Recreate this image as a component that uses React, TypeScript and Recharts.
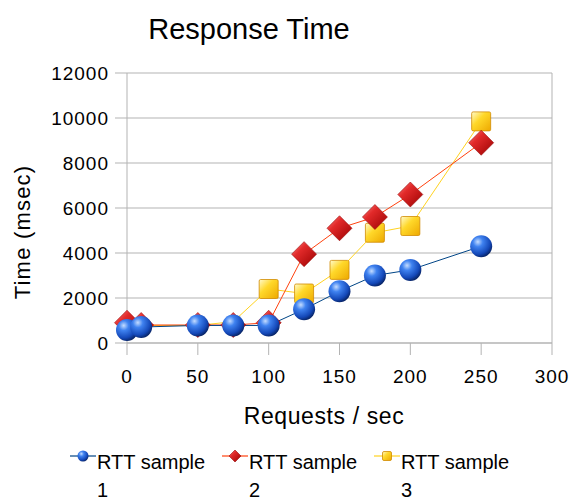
import React from 'react';
import { LineChart, Line, XAxis, YAxis, CartesianGrid, Legend, ReferenceLine } from 'recharts';

const requests = [0, 10, 50, 75, 100, 125, 150, 175, 200, 250];
const rtt1 = [580, 710, 780, 780, 780, 1500, 2300, 3000, 3250, 4300];
const rtt2 = [900, 800, 800, 800, 900, 3950, 5100, 5600, 6600, 8900];
const rtt3 = [780, 780, 780, 950, 2400, 2200, 3250, 4900, 5200, 9850];
// the first yellow symbols sit under the other series in the reference
const rtt3HiddenSymbols = 4;
const xTicks = [0, 50, 100, 150, 200, 250, 300];
const yTicks = [0, 2000, 4000, 6000, 8000, 10000, 12000];

const data = requests.map((r, i) => ({ r, s1: rtt1[i], s2: rtt2[i], s3: rtt3[i] }));

const FONT = '"Liberation Sans", Arial, sans-serif';
const GRID = '#b3b3b3';

const Sphere = ({ cx, cy, r }: { cx: number; cy: number; r: number }) => (
    <circle cx={cx} cy={cy} r={r} fill="url(#sphereGrad)" />
);
const Diamond = ({ cx, cy, r }: { cx: number; cy: number; r: number }) => (
    <polygon points={`${cx},${cy - r} ${cx + r},${cy} ${cx},${cy + r} ${cx - r},${cy}`} fill="url(#diamondGrad)" stroke="#9a0a0a" strokeWidth={0.6} />
);
const Square = ({ cx, cy, r }: { cx: number; cy: number; r: number }) => (
    <rect x={cx - r} y={cy - r} width={r * 2} height={r * 2} rx={1.5} fill="url(#squareGrad)" stroke="#d08a00" strokeWidth={0.8} />
);

const series = [
    { key: 's1', name: 'RTT sample 1', color: '#004586', Marker: Sphere, size: 11, icon: 5.5, hidden: 0 },
    { key: 's2', name: 'RTT sample 2', color: '#ff420e', Marker: Diamond, size: 12.5, icon: 6, hidden: 0 },
    { key: 's3', name: 'RTT sample 3', color: '#ffd320', Marker: Square, size: 9.5, icon: 4.5, hidden: rtt3HiddenSymbols },
];

const renderLegend = () => (
    <div style={{ display: 'flex', fontFamily: FONT, fontSize: 20, lineHeight: '28px', color: '#000' }}>
        {series.map(s => (
            <div key={s.key} style={{ display: 'flex', alignItems: 'flex-start', width: 152 }}>
                <svg width={27} height={16}>
                    <line x1={0} y1={8} x2={26} y2={8} stroke={s.color} strokeWidth={1.2} />
                    <s.Marker cx={13} cy={8} r={s.icon} />
                </svg>
                <div style={{ width: 115 }}>{s.name}</div>
            </div>
        ))}
    </div>
);

export default function App() {
    return (
        <div style={{ position: 'absolute', left: 0, top: 0, width: 571, height: 500, background: '#fff', fontFamily: FONT }}>
            <LineChart width={571} height={500} data={data} margin={{ top: 73, right: 19, left: 0, bottom: 77 }}>
                <defs>
                    <radialGradient id="sphereGrad" cx="35%" cy="30%" r="75%">
                        <stop offset="0" stopColor="#c4dcff" />
                        <stop offset="0.3" stopColor="#3f82f0" />
                        <stop offset="0.75" stopColor="#1448b8" />
                        <stop offset="1" stopColor="#06205e" />
                    </radialGradient>
                    <linearGradient id="diamondGrad" x1="0" y1="0" x2="1" y2="1">
                        <stop offset="0" stopColor="#ff8a8a" />
                        <stop offset="0.35" stopColor="#e22a2a" />
                        <stop offset="1" stopColor="#9a0000" />
                    </linearGradient>
                    <linearGradient id="squareGrad" x1="0" y1="0" x2="1" y2="1">
                        <stop offset="0" stopColor="#fffbd0" />
                        <stop offset="0.4" stopColor="#ffd82a" />
                        <stop offset="1" stopColor="#eda800" />
                    </linearGradient>
                </defs>
                <CartesianGrid vertical={false} stroke={GRID} />
                <XAxis
                    dataKey="r"
                    type="number"
                    domain={[0, 300]}
                    ticks={xTicks}
                    height={80}
                    stroke={GRID}
                    tickSize={12}
                    tickMargin={15}
                    tick={{ fill: '#000', fontSize: 19, fontFamily: FONT, letterSpacing: 1 }}
                    label={{
                        content: () => (
                            <text x={324} y={424} textAnchor="middle" fontSize={23} fontFamily={FONT} letterSpacing={0.6} fill="#000">
                                Requests / sec
                            </text>
                        ),
                    }}
                />
                <YAxis
                    type="number"
                    domain={[0, 12000]}
                    ticks={yTicks}
                    width={127}
                    stroke={GRID}
                    tickSize={12}
                    tickMargin={6}
                    tick={{ fill: '#000', fontSize: 19, fontFamily: FONT, letterSpacing: 1 }}
                    label={{
                        content: () => (
                            <text x={22} y={232} dy="0.35em" transform="rotate(-90 22 232)" textAnchor="middle" fontSize={22} fontFamily={FONT} letterSpacing={1.2} fill="#000">
                                Time (msec)
                            </text>
                        ),
                    }}
                />
                <ReferenceLine x={300} stroke={GRID} />
                {[...series].reverse().map(s => (
                    <Line
                        key={s.key}
                        type="linear"
                        dataKey={s.key}
                        name={s.name}
                        stroke={s.color}
                        strokeWidth={1}
                        isAnimationActive={false}
                        dot={(p: any) =>
                            p.index < s.hidden ? (
                                <g key={`${s.key}-${p.index}`} />
                            ) : (
                                <s.Marker key={`${s.key}-${p.index}`} cx={p.cx} cy={p.cy} r={s.size} />
                            )
                        }
                        activeDot={false}
                    />
                ))}
                <Legend
                    layout="horizontal"
                    verticalAlign="middle"
                    align="center"
                    content={renderLegend}
                    wrapperStyle={{ top: 448, left: 70, width: 'auto', height: 'auto' }}
                />
            </LineChart>
            <div style={{ position: 'absolute', top: 15, left: 0, width: 498, textAlign: 'center', fontSize: 29, lineHeight: '29px', color: '#000' }}>
                Response Time
            </div>
        </div>
    );
}
